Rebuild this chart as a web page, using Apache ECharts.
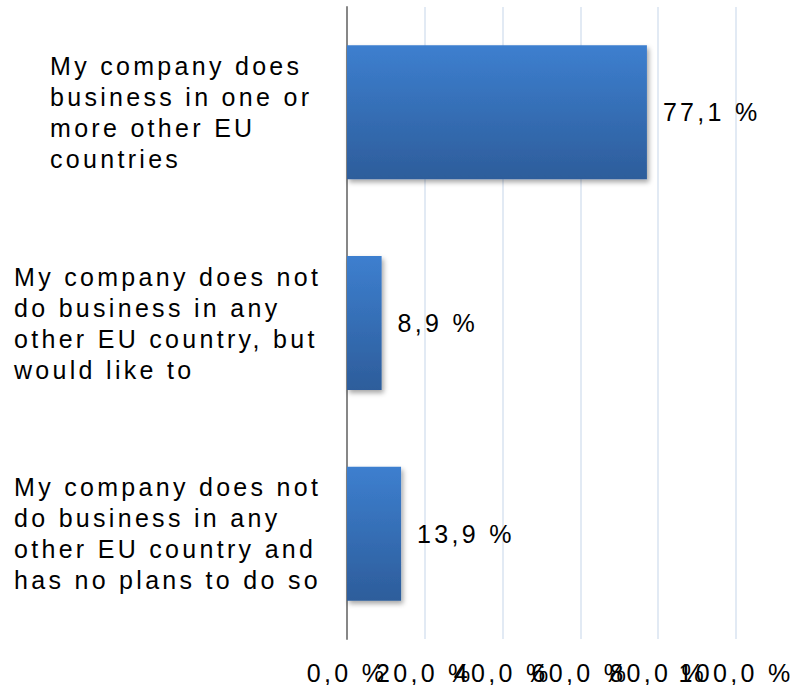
<!DOCTYPE html>
<html>
<head>
<meta charset="utf-8">
<title>EU business activity</title>
<script src="https://cdn.jsdelivr.net/npm/echarts@6/dist/echarts.min.js"></script>
<style>
  html, body { margin: 0; padding: 0; background: #ffffff; }
  #main { width: 794px; height: 685px; }
  /* wide tracking used for every label in the chart */
  #main text { letter-spacing: 3.3px; }
</style>
</head>
<body>
<div id="main"></div>
<script>
// Survey answers (top to bottom)
const categories = [
  'My company does\nbusiness in one or\nmore other EU\ncountries',
  'My company does not\ndo business in any\nother EU country, but\nwould like to',
  'My company does not\ndo business in any\nother EU country and\nhas no plans to do so'
];
// Share of respondents, percent
const shares = [77.1, 8.9, 13.9];
// Value axis range and step
const axisMin = 0;
const axisMax = 100;
const axisStep = 20;
// Tick labels, split over two stacked axes so the wide labels are all kept
const tickLabelsEven = [0, 40, 80];
const tickLabelsOdd = [20, 60, 100];

const FONT = "'Liberation Sans', Arial, sans-serif";
const pct = v => v.toFixed(1).replace('.', ',') + ' %';

const chart = echarts.init(document.getElementById('main'), null, { renderer: 'svg' });

function valueAxis(labelValues, withGrid) {
  return {
    type: 'value',
    position: 'bottom',
    min: axisMin,
    max: axisMax,
    interval: axisStep,
    axisLine: { show: false },
    axisTick: { show: false },
    splitLine: { show: withGrid, lineStyle: { color: '#d9e3f0', width: 1.5 } },
    axisLabel: {
      customValues: labelValues,
      margin: 21,
      color: '#000000',
      fontFamily: FONT,
      fontSize: 25,
      hideOverlap: false,
      formatter: v => pct(v)
    }
  };
}

chart.setOption({
  animation: false,
  backgroundColor: '#ffffff',
  grid: {
    left: 347, right: 58, top: 7, bottom: 46,
    containLabel: false,
    outerBoundsMode: 'none'
  },
  xAxis: [
    valueAxis(tickLabelsEven, true),
    valueAxis(tickLabelsOdd, false)
  ],
  yAxis: {
    type: 'category',
    inverse: true,
    data: categories.map((c, i) => i === 0
      ? { value: c, textStyle: { align: 'left', verticalAlign: 'middle', padding: [0, 0, 0, 36] } }
      : c),
    axisTick: { show: false },
    axisLine: { show: true, lineStyle: { color: '#878787', width: 2 } },
    axisLabel: {
      align: 'left',
      verticalAlign: 'middle',
      margin: 333,
      color: '#000000',
      fontFamily: FONT,
      fontSize: 25,
      lineHeight: 31
    }
  },
  series: [{
    type: 'bar',
    xAxisIndex: 0,
    data: shares,
    barWidth: 134,
    itemStyle: {
      color: new echarts.graphic.LinearGradient(0, 0, 0, 1, [
        { offset: 0, color: '#3d7fcf' },
        { offset: 1, color: '#2d5d9b' }
      ]),
      shadowColor: 'rgba(0,0,0,0.35)',
      shadowBlur: 5,
      shadowOffsetX: 2,
      shadowOffsetY: 3
    },
    label: {
      show: true,
      position: 'right',
      distance: 16,
      color: '#000000',
      fontFamily: FONT,
      fontSize: 25,
      formatter: p => pct(p.value)
    }
  }]
});
</script>
</body>
</html>
